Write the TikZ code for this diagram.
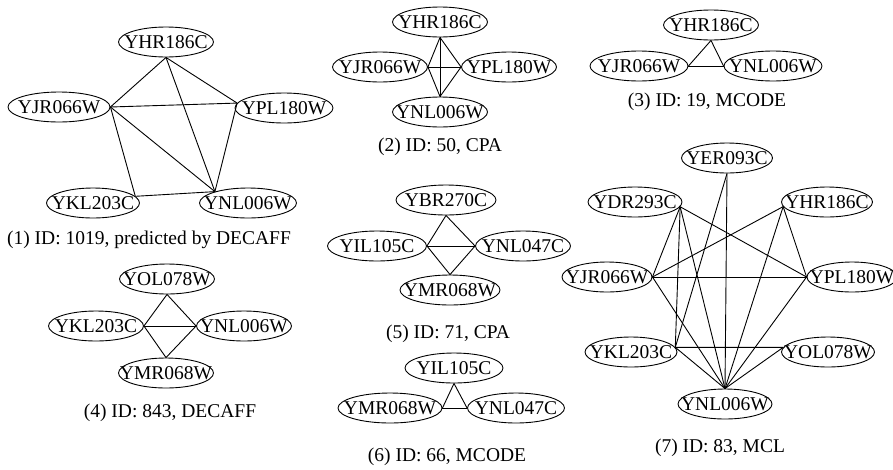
\documentclass[tikz,border=0pt]{standalone}
\usepackage{fontspec}
\setmainfont{Liberation Serif}
\usetikzlibrary{shapes.geometric}
\newcommand{\pn}[1]{\makebox[0pt]{#1}}
\tikzset{
  prot/.style={draw, ellipse, minimum width=#1, minimum height=30pt, inner sep=0pt, line width=0.9pt, font=\fontsize{19.5}{22}\selectfont},
  prot/.default=95pt,
  capt/.style={font=\fontsize{19.5}{22}\selectfont, inner sep=0pt},
  edge/.style={line width=0.9pt}
}
\begin{document}
\begin{tikzpicture}[x=1pt,y=-1pt]
\useasboundingbox (0,0) rectangle (893,469);
% Graph 1
\node[prot] (a1) at (166,42) {\pn{YHR186C}};
\node[prot=102pt] (b1) at (59,107) {\pn{YJR066W}};
\node[prot=98pt] (c1) at (284,108) {\pn{YPL180W}};
\node[prot=93pt] (d1) at (93,203) {\pn{YKL203C}};
\node[prot=97pt] (e1) at (248,203) {\pn{YNL006W}};
\node[capt] (t1) at (149,240) {(1) ID: 1019, predicted by DECAFF};
\draw[edge] (a1.south) -- (b1.east);
\draw[edge] (a1.south) -- (c1.174);
\draw[edge] (a1.south) -- (e1.161);
\draw[edge] (b1.east) -- (c1.174);
\draw[edge] (b1.east) -- (e1.161);
\draw[edge] (b1.east) -- (d1.9);
\draw[edge] (c1.174) -- (e1.161);
\draw[edge] (d1.9) -- (e1.161);
% Graph 2
\node[prot] (a2) at (440,22) {\pn{YHR186C}};
\node[prot] (b2) at (380,67) {\pn{YJR066W}};
\node[prot] (c2) at (509,67) {\pn{YPL180W}};
\node[prot] (d2) at (440,112) {\pn{YNL006W}};
\node[capt] (t2) at (440,147) {(2) ID: 50, CPA};
\draw[edge] (a2.south) -- (b2.east);
\draw[edge] (a2.south) -- (c2.west);
\draw[edge] (a2.south) -- (d2.north);
\draw[edge] (b2.east) -- (c2.west);
\draw[edge] (b2.east) -- (d2.north);
\draw[edge] (c2.west) -- (d2.north);
% Graph 3
\node[prot] (a3) at (711,25) {\pn{YHR186C}};
\node[prot=98pt] (b3) at (639,66) {\pn{YJR066W}};
\node[prot=98pt] (c3) at (773,66) {\pn{YNL006W}};
\node[capt] (t3) at (707,102) {(3) ID: 19, MCODE};
\draw[edge] (a3.south) -- (b3.east);
\draw[edge] (a3.south) -- (c3.west);
\draw[edge] (b3.east) -- (c3.west);
% Graph 4
\node[prot] (a4) at (167,279) {\pn{YOL078W}};
\node[prot] (b4) at (96,326) {\pn{YKL203C}};
\node[prot] (c4) at (244,326) {\pn{YNL006W}};
\node[prot] (d4) at (166,373) {\pn{YMR068W}};
\node[capt] (t4) at (170,413) {(4) ID: 843, DECAFF};
\draw[edge] (a4.south) -- (b4.east);
\draw[edge] (a4.south) -- (c4.west);
\draw[edge] (b4.east) -- (c4.west);
\draw[edge] (b4.east) -- (d4.north);
\draw[edge] (c4.west) -- (d4.north);
% Graph 5
\node[prot=100pt] (a5) at (446,200) {\pn{YBR270C}};
\node[prot=99pt] (b5) at (377,246) {\pn{YIL105C}};
\node[prot] (c5) at (523,246) {\pn{YNL047C}};
\node[prot=100pt] (d5) at (450,290) {\pn{YMR068W}};
\node[capt] (t5) at (448,334) {(5) ID: 71, CPA};
\draw[edge] (a5.south) -- (b5.east);
\draw[edge] (a5.south) -- (c5.west);
\draw[edge] (b5.east) -- (c5.west);
\draw[edge] (b5.east) -- (d5.north);
\draw[edge] (c5.west) -- (d5.north);
% Graph 6
\node[prot=98pt] (a6) at (454,368) {\pn{YIL105C}};
\node[prot=104pt] (b6) at (390,408) {\pn{YMR068W}};
\node[prot=97pt] (c6) at (516,408) {\pn{YNL047C}};
\node[capt] (t6) at (447,457) {(6) ID: 66, MCODE};
\draw[edge] (a6.south) -- (b6.east);
\draw[edge] (a6.south) -- (c6.west);
\draw[edge] (b6.east) -- (c6.west);
% Graph 7
\node[prot=91pt] (er) at (727,158) {\pn{YER093C}};
\node[prot=94pt] (dr) at (635,202) {\pn{YDR293C}};
\node[prot=91pt] (hr) at (827,202) {\pn{YHR186C}};
\node[prot=90pt] (jr) at (607,277) {\pn{YJR066W}};
\node[prot=90pt] (pl) at (852,277) {\pn{YPL180W}};
\node[prot=92pt] (kl) at (631,352) {\pn{YKL203C}};
\node[prot=93pt] (ol) at (828,352) {\pn{YOL078W}};
\node[prot=94pt] (nl) at (725,404) {\pn{YNL006W}};
\node[capt] (t7) at (720,448) {(7) ID: 83, MCL};
\draw[edge] (er.south) -- (nl.north);
\draw[edge] (er.south) -- (kl.6);
\draw[edge] (dr.-6) -- (jr.east);
\draw[edge] (dr.-6) -- (kl.6);
\draw[edge] (dr.-6) -- (nl.north);
\draw[edge] (dr.-6) -- (pl.west);
\draw[edge] (hr.186) -- (jr.east);
\draw[edge] (hr.186) -- (nl.north);
\draw[edge] (hr.186) -- (pl.west);
\draw[edge] (jr.east) -- (pl.west);
\draw[edge] (jr.east) -- (nl.north);
\draw[edge] (kl.6) -- (ol.174);
\draw[edge] (kl.6) -- (nl.north);
\draw[edge] (ol.174) -- (nl.north);
\draw[edge] (pl.west) -- (nl.north);
\end{tikzpicture}
\end{document}
